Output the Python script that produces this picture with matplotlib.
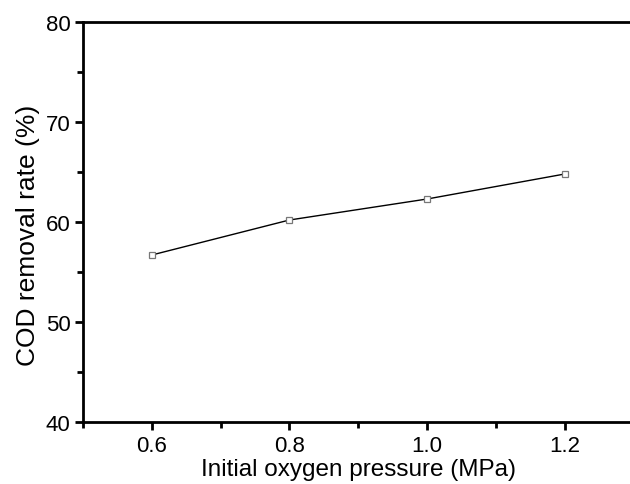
import matplotlib
matplotlib.use("Agg")
import matplotlib.pyplot as plt
from matplotlib.ticker import MultipleLocator

# Data
pressure = [0.6, 0.8, 1.0, 1.2]
cod_removal = [56.7, 60.2, 62.3, 64.8]

plt.rcParams["font.family"] = ["Liberation Sans", "DejaVu Sans"]

fig = plt.figure(figsize=(6.3, 4.85), dpi=100)
ax = fig.add_axes([0.1317, 0.1278, 0.874, 0.8248])

ax.plot(pressure, cod_removal, color="black", linewidth=1.0,
        marker="s", markersize=5, markerfacecolor="white",
        markeredgecolor="#777777", markeredgewidth=0.9)

ax.set_xlim(0.5, 1.3)
ax.set_ylim(40, 80)
ax.xaxis.set_major_locator(MultipleLocator(0.2))
ax.xaxis.set_minor_locator(MultipleLocator(0.1))
ax.yaxis.set_major_locator(MultipleLocator(10))
ax.yaxis.set_minor_locator(MultipleLocator(5))
ax.set_xticks([0.6, 0.8, 1.0, 1.2])
ax.set_xticklabels(["0.6", "0.8", "1.0", "1.2"])

for side in ["left", "bottom", "top", "right"]:
    ax.spines[side].set_linewidth(2.0)

ax.tick_params(which="major", direction="out", length=6, width=2.0,
               labelsize=16, pad=3, top=False, right=False)
ax.tick_params(which="minor", direction="out", length=4, width=2.0,
               top=False, right=False)

ax.set_xlabel("Initial oxygen pressure (MPa)", fontsize=17.5, labelpad=2)
ax.set_ylabel("COD removal rate (%)", fontsize=19)
ax.yaxis.set_label_coords(-0.078, 0.47)

fig.savefig("out.png", dpi=100)
